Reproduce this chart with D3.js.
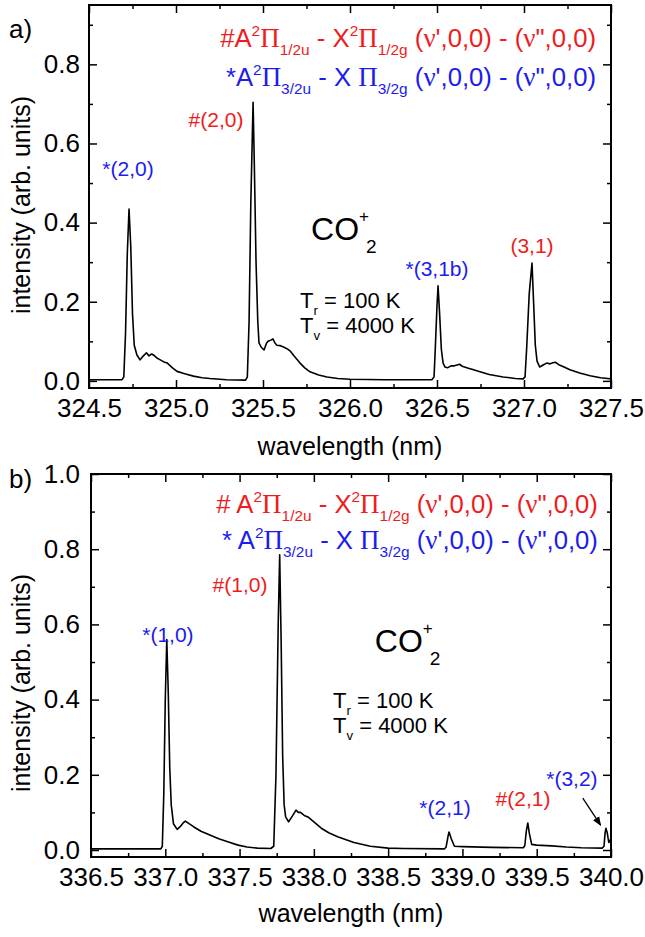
<!DOCTYPE html>
<html>
<head>
<meta charset="utf-8">
<script src="https://cdnjs.cloudflare.com/ajax/libs/d3/7.8.5/d3.min.js"></script>
<style>
body { margin: 0; background: #fff; }
svg text { font-family: "Liberation Sans", Arial, sans-serif; }
</style>
</head>
<body>
<script>
// ---- panel a) spectrum : [wavelength nm, intensity]
var specA = [
  [324.50, 0.003], [324.69, 0.003], [324.70, 0.010], [324.71, 0.120], [324.72, 0.320],
  [324.73, 0.434], [324.74, 0.340], [324.75, 0.170], [324.76, 0.090], [324.775, 0.066],
  [324.793, 0.053], [324.81, 0.062], [324.83, 0.071], [324.845, 0.063], [324.86, 0.068],
  [324.875, 0.064], [324.89, 0.058], [324.91, 0.053], [324.93, 0.048], [324.95, 0.045],
  [324.98, 0.033], [325.006, 0.024], [325.05, 0.018], [325.10, 0.012], [325.15, 0.008],
  [325.195, 0.006], [325.29, 0.003], [325.40, 0.002], [325.41, 0.010], [325.42, 0.150],
  [325.43, 0.450], [325.443, 0.704], [325.45, 0.550], [325.46, 0.300], [325.47, 0.150],
  [325.477, 0.096], [325.49, 0.085], [325.506, 0.078], [325.52, 0.095], [325.529, 0.100],
  [325.545, 0.103], [325.557, 0.106], [325.57, 0.095], [325.58, 0.090], [325.60, 0.089],
  [325.615, 0.086], [325.635, 0.082], [325.655, 0.076], [325.68, 0.062], [325.713, 0.045],
  [325.74, 0.033], [325.77, 0.023], [325.82, 0.015], [325.868, 0.010], [325.93, 0.006],
  [326.00, 0.004], [326.20, 0.003], [326.47, 0.003], [326.483, 0.010], [326.49, 0.080],
  [326.50, 0.190], [326.506, 0.240], [326.515, 0.170], [326.525, 0.080], [326.535, 0.045],
  [326.546, 0.035], [326.56, 0.033], [326.58, 0.038], [326.60, 0.038], [326.615, 0.040],
  [326.63, 0.042], [326.645, 0.037], [326.68, 0.032], [326.71, 0.028], [326.747, 0.023],
  [326.80, 0.016], [326.88, 0.010], [326.95, 0.006], [326.995, 0.005], [327.006, 0.010],
  [327.015, 0.080], [327.03, 0.220], [327.046, 0.298], [327.055, 0.200], [327.065, 0.090],
  [327.075, 0.050], [327.09, 0.035], [327.11, 0.040], [327.13, 0.045], [327.15, 0.043],
  [327.165, 0.046], [327.18, 0.047], [327.20, 0.041], [327.23, 0.035], [327.264, 0.028],
  [327.32, 0.020], [327.38, 0.013], [327.44, 0.008], [327.48, 0.006], [327.50, 0.005]
];

// ---- panel b) spectrum
var specB = [
  [336.50, 0.003], [336.97, 0.003], [336.98, 0.010], [336.99, 0.150], [337.00, 0.400],
  [337.01, 0.560], [337.02, 0.420], [337.03, 0.220], [337.04, 0.120], [337.055, 0.070],
  [337.08, 0.055], [337.10, 0.062], [337.12, 0.072], [337.135, 0.077], [337.16, 0.070],
  [337.19, 0.062], [337.24, 0.050], [337.30, 0.040], [337.36, 0.030], [337.42, 0.022],
  [337.49, 0.013], [337.55, 0.008], [337.62, 0.005], [337.71, 0.004], [337.73, 0.010],
  [337.745, 0.200], [337.76, 0.600], [337.77, 0.785], [337.78, 0.550], [337.79, 0.250],
  [337.80, 0.120], [337.81, 0.088], [337.83, 0.075], [337.855, 0.090], [337.88, 0.106],
  [337.895, 0.100], [337.91, 0.100], [337.935, 0.092], [337.96, 0.088], [338.00, 0.075],
  [338.05, 0.058], [338.10, 0.046], [338.16, 0.035], [338.27, 0.020], [338.38, 0.010],
  [338.50, 0.005], [338.60, 0.004], [338.88, 0.003], [338.89, 0.008], [338.905, 0.040],
  [338.91, 0.048], [338.925, 0.030], [338.946, 0.010], [339.00, 0.009], [339.20, 0.007],
  [339.41, 0.006], [339.42, 0.012], [339.43, 0.050], [339.44, 0.072], [339.45, 0.045],
  [339.466, 0.015], [339.50, 0.013], [339.60, 0.011], [339.70, 0.008], [339.80, 0.006],
  [339.94, 0.005], [339.953, 0.010], [339.96, 0.045], [339.966, 0.058], [339.975, 0.045],
  [339.985, 0.020], [340.00, 0.030]
];

// ---- ticks
var xTicksA = [324.5, 325.0, 325.5, 326.0, 326.5, 327.0, 327.5];
var xMinorA = [324.75, 325.25, 325.75, 326.25, 326.75, 327.25];
var yTicksA = [0.0, 0.2, 0.4, 0.6, 0.8];
var yMinorA = [0.1, 0.3, 0.5, 0.7, 0.9];
var xTicksB = [336.5, 337.0, 337.5, 338.0, 338.5, 339.0, 339.5, 340.0];
var xMinorB = [336.75, 337.25, 337.75, 338.25, 338.75, 339.25, 339.75];
var yTicksB = [0.0, 0.2, 0.4, 0.6, 0.8, 1.0];
var yMinorB = [0.1, 0.3, 0.5, 0.7, 0.9];

// ---- peak labels: text, which system
var peaksA = [["*(2,0)", "star"], ["#(2,0)", "hash"], ["*(3,1b)", "star"], ["(3,1)", "hash"]];
var peaksB = [["*(1,0)", "star"], ["#(1,0)", "hash"], ["*(2,1)", "star"], ["#(2,1)", "hash"], ["*(3,2)", "star"]];

// ---- band system headings, [text, kind]
var hashA = [["#A", ""], ["2", "sup"], ["\u03A0", "sym"], ["1/2u", "sub"], [" - X", ""], ["2", "sup"], ["\u03A0", "sym"], ["1/2g", "sub"],
             [" (", ""], ["\u03BD", "sym"], ["',0,0) - (", ""], ["\u03BD", "sym"], ["\",0,0)", ""]];
var starA = [["*A", ""], ["2", "sup"], ["\u03A0", "sym"], ["3/2u", "sub"], [" - X ", ""], ["\u03A0", "sym"], ["3/2g", "sub"],
             [" (", ""], ["\u03BD", "sym"], ["',0,0) - (", ""], ["\u03BD", "sym"], ["\",0,0)", ""]];
var hashB = [["# A", ""]].concat(hashA.slice(1));
var starB = [["* A", ""]].concat(starA.slice(1));

var red = "#ee1c1c", blue = "#1c1cee";
var colorOf = {star: blue, hash: red};

var W = 645, H = 937;
var svg = d3.select("body").append("svg").attr("width", W).attr("height", H);

svg.append("defs").append("marker")
  .attr("id", "arr").attr("viewBox", "0 0 10 10").attr("refX", 9).attr("refY", 5)
  .attr("markerWidth", 7).attr("markerHeight", 7).attr("orient", "auto")
  .append("path").attr("d", "M0,1 L10,5 L0,9 z").attr("fill", "#000");

function richText(g, x, y, parts, size, color, anchor) {
  var t = g.append("text").attr("x", x).attr("y", y).attr("fill", color)
    .attr("font-size", size).attr("text-anchor", anchor || "start");
  var cur = 0;
  parts.forEach(function(p) {
    var off = 0, fs = size, fam = null;
    if (p[1] == "sup") { off = -0.42 * size; fs = 0.6 * size; }
    if (p[1] == "sub") { off = 0.32 * size; fs = 0.6 * size; }
    if (p[1] == "sym") { fam = "Liberation Serif, Times New Roman, serif"; fs = 1.05 * size; }
    var s = t.append("tspan").attr("dy", off - cur).attr("font-size", fs).text(p[0]);
    if (fam) s.attr("font-family", fam);
    cur = off;
  });
  return t;
}

function panel(cfg) {
  var x = cfg.x, y = cfg.y;
  var l = x.range()[0], r = x.range()[1], b = y.range()[0], t = y.range()[1];
  var g = svg.append("g");

  // curve
  g.append("path").datum(cfg.data)
    .attr("d", d3.line().x(function(d) { return x(d[0]); }).y(function(d) { return y(d[1]); }))
    .attr("fill", "none").attr("stroke", "#000").attr("stroke-width", 1.6)
    .attr("stroke-linejoin", "round");

  // axes, ticks point inward on all four sides
  var fmt = d3.format(".1f");
  var ax = [
    [d3.axisBottom(x).tickValues(cfg.xt).tickSize(-8).tickPadding(11).tickFormat(fmt), 0, b],
    [d3.axisBottom(x).tickValues(cfg.xm).tickSize(-4).tickFormat(""), 0, b],
    [d3.axisTop(x).tickValues(cfg.xt).tickSize(-8).tickFormat(""), 0, t],
    [d3.axisTop(x).tickValues(cfg.xm).tickSize(-4).tickFormat(""), 0, t],
    [d3.axisLeft(y).tickValues(cfg.yt).tickSize(-8).tickPadding(cfg.ypad).tickFormat(fmt), l, 0],
    [d3.axisLeft(y).tickValues(cfg.ym).tickSize(-4).tickFormat(""), l, 0],
    [d3.axisRight(y).tickValues(cfg.yt).tickSize(-8).tickFormat(""), r, 0],
    [d3.axisRight(y).tickValues(cfg.ym).tickSize(-4).tickFormat(""), r, 0]
  ];
  ax.forEach(function(a) {
    g.append("g").attr("transform", "translate(" + a[1] + "," + a[2] + ")")
      .call(a[0])
      .attr("font-size", 26).attr("font-family", "Liberation Sans, Arial, sans-serif");
  });
  g.selectAll(".domain").remove();
  g.selectAll(".tick line").attr("stroke", "#000").attr("stroke-width", 1.5);
  g.selectAll(".tick text").attr("fill", "#000");

  g.append("rect").attr("x", l).attr("y", t).attr("width", r - l).attr("height", b - t)
    .attr("fill", "none").attr("stroke", "#000").attr("stroke-width", 2);

  // axis titles
  g.append("text").attr("x", (l + r) / 2).attr("y", cfg.xTitleY).attr("text-anchor", "middle")
    .attr("font-size", 25).text("wavelength (nm)");
  g.append("text").attr("transform", "translate(30," + cfg.yTitleY + ") rotate(-90)")
    .attr("text-anchor", "middle").attr("font-size", 25).text("intensity (arb. units)");
  g.append("text").attr("x", 9).attr("y", cfg.tagY).attr("font-size", 26).text(cfg.tag);

  // headings
  richText(g, x(cfg.head[0]), y(cfg.head[1]), cfg.hash, 25.7, red, "end");
  richText(g, x(cfg.head[0]), y(cfg.head[2]), cfg.star, 25.7, blue, "end");

  // peak labels
  cfg.peaks.forEach(function(p, i) {
    var pos = cfg.peakPos[i];
    g.append("text").attr("x", x(pos[0])).attr("y", y(pos[1])).attr("text-anchor", "middle")
      .attr("font-size", 21).attr("fill", colorOf[p[1]]).text(p[0]);
  });

  // molecule and temperatures
  var cx = x(cfg.co[0]), cy = y(cfg.co[1]);
  g.append("text").attr("x", cx).attr("y", cy).attr("font-size", 32).text("CO");
  g.append("text").attr("x", cx + 48).attr("y", cy - 18).attr("font-size", 17).text("+");
  g.append("text").attr("x", cx + 55).attr("y", cy + 13).attr("font-size", 19).text("2");

  var tx = x(cfg.temp[0]);
  richText(g, tx, y(cfg.temp[1]), [["T", ""], ["r", "sub"], [" = 100 K", ""]], 22, "#000");
  richText(g, tx, y(cfg.temp[2]), [["T", ""], ["v", "sub"], [" = 4000 K", ""]], 22, "#000");
  return g;
}

var xA = d3.scaleLinear().domain([324.5, 327.5]).range([89, 611]);
var yA = d3.scaleLinear().domain([-0.018, 0.95]).range([388, 5]);
var xB = d3.scaleLinear().domain([336.5, 340.0]).range([91, 611]);
var yB = d3.scaleLinear().domain([-0.0186, 1.0]).range([857, 474]);

panel({
  x: xA, y: yA, data: specA, xt: xTicksA, xm: xMinorA, yt: yTicksA, ym: yMinorA, ypad: 9,
  xTitleY: 455, yTitleY: 205, tag: "a)", tagY: 38,
  hash: hashA, star: starA, head: [327.414, 0.844, 0.745],
  peaks: peaksA, peakPos: [[324.724, 0.518], [325.23, 0.642], [326.50, 0.265], [327.046, 0.323]],
  co: [325.776, 0.356], temp: [325.713, 0.184, 0.121]
});

var gb = panel({
  x: xB, y: yB, data: specB, xt: xTicksB, xm: xMinorB, yt: yTicksB, ym: yMinorB, ypad: 11,
  xTitleY: 922, yTitleY: 683, tag: "b)", tagY: 488,
  hash: hashB, star: starB, head: [339.912, 0.896, 0.800],
  peaks: peaksB, peakPos: [[337.018, 0.553], [337.503, 0.686], [338.883, 0.093], [339.408, 0.117], [339.737, 0.17]],
  co: [338.41, 0.527], temp: [338.129, 0.378, 0.311]
});

// arrow to the *(3,2) peak
gb.append("line")
  .attr("x1", xB(339.81)).attr("y1", yB(0.138)).attr("x2", xB(339.93)).attr("y2", yB(0.066))
  .attr("stroke", "#000").attr("stroke-width", 1.3).attr("marker-end", "url(#arr)");
</script>
</body>
</html>
